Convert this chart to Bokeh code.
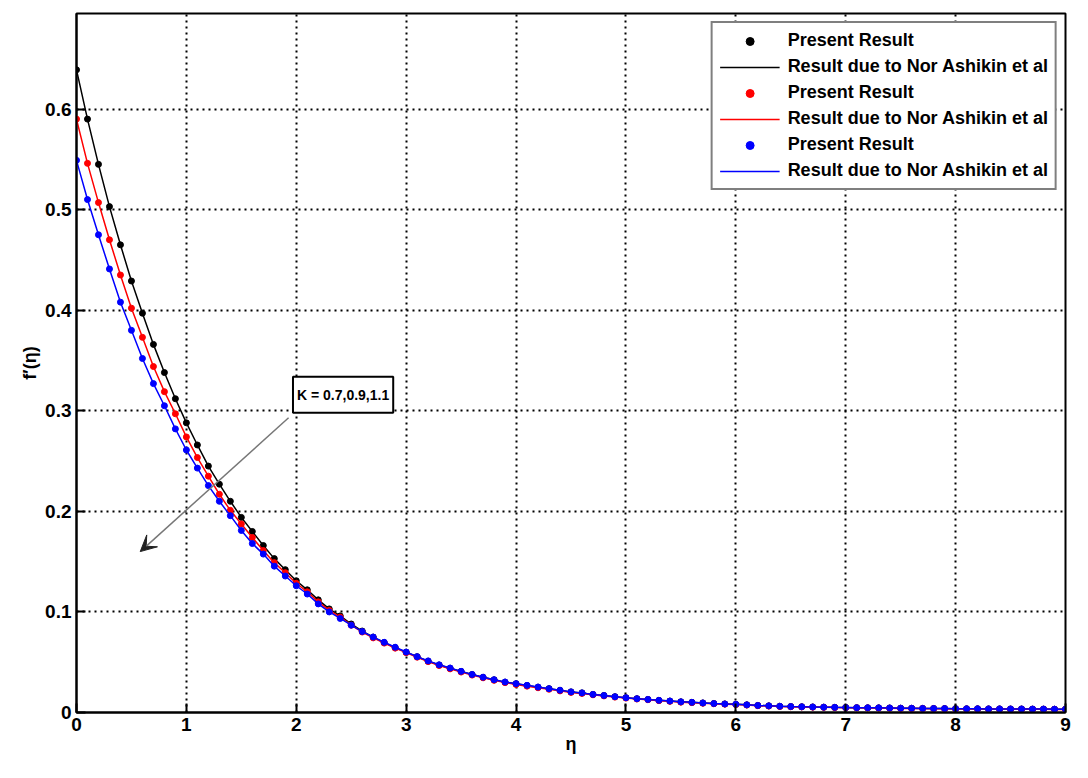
from bokeh.plotting import figure
from bokeh.models import Legend, LegendItem, Label, Arrow, VeeHead, FixedTicker
from bokeh.embed import file_html
from bokeh.resources import INLINE

# ---------------- data ----------------
ETA = [0.0, 0.1, 0.2, 0.3, 0.4, 0.5, 0.6, 0.7, 0.8, 0.9,
       1.0, 1.1, 1.2, 1.3, 1.4, 1.5, 1.6, 1.7, 1.8, 1.9,
       2.0, 2.1, 2.2, 2.3, 2.4, 2.5, 2.6, 2.7, 2.8, 2.9,
       3.0, 3.1, 3.2, 3.3, 3.4, 3.5, 3.6, 3.7, 3.8, 3.9,
       4.0, 4.1, 4.2, 4.3, 4.4, 4.5, 4.6, 4.7, 4.8, 4.9,
       5.0, 5.1, 5.2, 5.3, 5.4, 5.5, 5.6, 5.7, 5.8, 5.9,
       6.0, 6.1, 6.2, 6.3, 6.4, 6.5, 6.6, 6.7, 6.8, 6.9,
       7.0, 7.1, 7.2, 7.3, 7.4, 7.5, 7.6, 7.7, 7.8, 7.9,
       8.0, 8.1, 8.2, 8.3, 8.4, 8.5, 8.6, 8.7, 8.8, 8.9, 9.0]

K07 = [0.639, 0.590, 0.545, 0.503, 0.465, 0.429, 0.397, 0.366, 0.338, 0.312,
       0.288, 0.266, 0.245, 0.227, 0.210, 0.194, 0.180, 0.166, 0.153, 0.142,
       0.131, 0.122, 0.112, 0.103, 0.096, 0.088, 0.081, 0.075, 0.0695, 0.0645,
       0.0600, 0.0555, 0.0510, 0.0472, 0.0440, 0.0408, 0.0377, 0.0350, 0.0325, 0.0302,
       0.0285, 0.0268, 0.0252, 0.0237, 0.0221, 0.0205, 0.0195, 0.0180, 0.0169, 0.0157,
       0.0147, 0.0137, 0.0130, 0.0121, 0.0114, 0.0106, 0.0101, 0.0095, 0.0089, 0.0085,
       0.0081, 0.0076, 0.0070, 0.0066, 0.0062, 0.0059, 0.0057, 0.0055, 0.0053, 0.0051,
       0.0050, 0.0048, 0.0047, 0.0046, 0.0045, 0.0043, 0.0042, 0.0041, 0.0040, 0.0039,
       0.0038, 0.0037, 0.0037, 0.0036, 0.0036, 0.0035, 0.0035, 0.0034, 0.0034, 0.0033, 0.0033]

K09 = [0.590, 0.546, 0.507, 0.470, 0.435, 0.402, 0.373, 0.344, 0.319, 0.297,
       0.274, 0.2535, 0.235, 0.217, 0.201, 0.1875, 0.174, 0.161, 0.149, 0.139,
       0.1285, 0.120, 0.110, 0.1015, 0.0948, 0.0868, 0.080, 0.0742, 0.069, 0.064,
       0.0595, 0.0550, 0.0506, 0.0467, 0.0434, 0.0402, 0.0372, 0.0345, 0.0320, 0.0297,
       0.0279, 0.0262, 0.0246, 0.0231, 0.0215, 0.0200, 0.0190, 0.0176, 0.0165, 0.0153,
       0.0143, 0.0134, 0.0127, 0.0118, 0.0111, 0.0103, 0.0098, 0.0092, 0.0087, 0.0083,
       0.0079, 0.0074, 0.0068, 0.0064, 0.0060, 0.0057, 0.0055, 0.0053, 0.0051, 0.0049,
       0.0048, 0.0046, 0.0045, 0.0044, 0.0043, 0.0041, 0.0040, 0.0039, 0.0038, 0.0037,
       0.0036, 0.0035, 0.0035, 0.0034, 0.0034, 0.0033, 0.0033, 0.0032, 0.0032, 0.0031, 0.0031]

K11 = [0.549, 0.510, 0.475, 0.441, 0.408, 0.380, 0.352, 0.327, 0.305, 0.282,
       0.261, 0.243, 0.2256, 0.210, 0.1957, 0.181, 0.168, 0.1575, 0.1455, 0.1357,
       0.126, 0.1178, 0.108, 0.100, 0.0935, 0.0868, 0.0805, 0.075, 0.0698, 0.0649,
       0.0601, 0.0555, 0.0513, 0.0474, 0.0442, 0.0409, 0.0378, 0.0351, 0.0326, 0.0303,
       0.0287, 0.0270, 0.0253, 0.0237, 0.0221, 0.0205, 0.0195, 0.0180, 0.0169, 0.0157,
       0.0147, 0.0137, 0.0130, 0.0121, 0.0114, 0.0106, 0.0101, 0.0095, 0.0089, 0.0085,
       0.0082, 0.0076, 0.0070, 0.0066, 0.0062, 0.0059, 0.0057, 0.0055, 0.0053, 0.0051,
       0.0050, 0.0048, 0.0047, 0.0046, 0.0045, 0.0043, 0.0042, 0.0041, 0.0040, 0.0039,
       0.0038, 0.0037, 0.0037, 0.0036, 0.0036, 0.0035, 0.0035, 0.0034, 0.0034, 0.0033, 0.0033]

X_TICKS = [0, 1, 2, 3, 4, 5, 6, 7, 8, 9]
Y_TICKS = [0, 0.1, 0.2, 0.3, 0.4, 0.5, 0.6]
Y_TICK_LABELS = ["0", "0.1", "0.2", "0.3", "0.4", "0.5", "0.6"]

SERIES = [(K07, "black"), (K09, "#ff0000"), (K11, "#0000ff")]
LABEL_PRESENT = "Present Result"
LABEL_REF = "Result due to Nor Ashikin et al"
ANNOT = "K = 0.7,0.9,1.1"

FONT = "Liberation Sans"

# ---------------- figure ----------------
p = figure(width=1072, height=762, x_range=(0, 9), y_range=(0, 0.695),
           output_backend="svg", toolbar_location=None,
           min_border_left=76, min_border_right=7, min_border_top=13, min_border_bottom=50)
p.background_fill_color = "white"
p.border_fill_color = "white"
p.outline_line_color = "black"
p.outline_line_width = 2

xax = p.below[0]
yax = p.left[0]
for ax in (xax, yax):
    ax.axis_line_width = 2
    ax.axis_line_color = "black"
    ax.major_tick_in = 9
    ax.major_tick_out = 0
    ax.major_tick_line_width = 2
    ax.minor_tick_line_color = None
    ax.major_label_text_font = FONT
    ax.major_label_text_font_style = "bold"
    ax.major_label_text_font_size = "19px"
    ax.major_label_text_color = "black"
    ax.axis_label_text_font = FONT
    ax.axis_label_text_font_style = "bold"
    ax.axis_label_text_font_size = "18px"
    ax.axis_label_text_color = "black"

xax.ticker = FixedTicker(ticks=X_TICKS)
yax.ticker = FixedTicker(ticks=Y_TICKS)
yax.major_label_overrides = {t: l for t, l in zip(Y_TICKS, Y_TICK_LABELS)}
xax.major_label_standoff = 5
yax.major_label_standoff = 5
xax.axis_label = "η"
yax.axis_label = "f′(η)"
xax.axis_label_standoff = 0
yax.axis_label_standoff = 2

for g in (p.xgrid[0], p.ygrid[0]):
    g.grid_line_color = "black"
    g.grid_line_dash = "2 4"
    g.grid_line_width = 2

items = []
for ys, col in SERIES:
    ln = p.line(ETA, ys, line_color=col, line_width=1.5)
    sc = p.scatter(ETA, ys, size=6, fill_color=col, line_color=col)
    items.append(LegendItem(label=LABEL_PRESENT, renderers=[sc]))
    items.append(LegendItem(label=LABEL_REF, renderers=[ln]))

legend = Legend(items=items, location="top_right", margin=8,
                padding=7, spacing=5, label_height=20, glyph_height=20, glyph_width=60,
                label_standoff=8,
                label_text_font=FONT, label_text_font_style="bold",
                label_text_font_size="18px", label_text_color="black",
                border_line_color="black", border_line_width=2,
                background_fill_color="white", background_fill_alpha=1.0)
p.add_layout(legend)

arrow = Arrow(end=VeeHead(size=16, fill_color="#222222", line_color="#222222"),
              x_start=1.93, y_start=0.293, x_end=0.58, y_end=0.160,
              line_color="#777777", line_width=1.5)
p.add_layout(arrow)

lab = Label(x=1.97, y=0.298, text=ANNOT, text_font=FONT, text_font_style="bold",
            text_font_size="14px", text_color="black",
            background_fill_color="white", border_line_color="black",
            border_line_width=2, padding=(4, 10), text_align="left", text_baseline="bottom")
p.add_layout(lab)

open("out.html", "w").write(file_html(p, INLINE))
